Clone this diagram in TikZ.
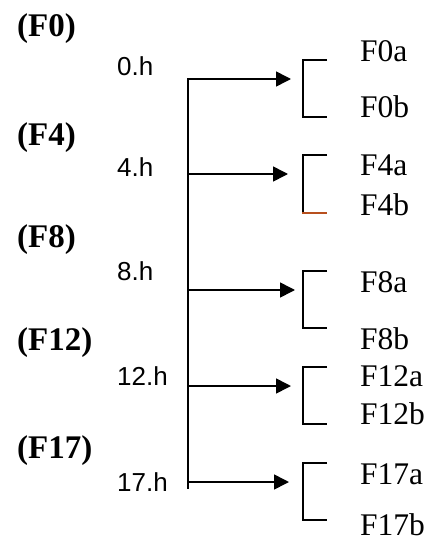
\documentclass[tikz,border=0pt]{standalone}
\usepackage{fontspec}
\setmainfont{Liberation Serif}
\newfontfamily\hfont{Liberation Sans}
\usetikzlibrary{arrows.meta}
\definecolor{tickbrown}{RGB}{184,80,30}
\tikzset{
  line/.style={line width=1.6pt, line cap=rect},
  arr/.style={line width=1.6pt, -{Triangle[length=15pt,width=15pt]}},
  grp/.style={font=\fontsize{33}{33}\selectfont\bfseries, anchor=base west, inner sep=0pt},
  hr/.style={font=\hfont\fontsize{26}{26}\selectfont, anchor=base west, inner sep=0pt},
  lab/.style={font=\fontsize{31.5}{31.5}\selectfont, anchor=base west, inner sep=0pt},
}
\begin{document}
\begin{tikzpicture}[x=1pt, y=-1pt]
\useasboundingbox (0,0) rectangle (446,543);
% group labels
\node[grp] (g0) at (17,37) {(F0)};
\node[grp] (g4) at (17,145) {(F4)};
\node[grp] (g8) at (17,247) {(F8)};
\node[grp] (g12) at (17,350) {(F12)};
\node[grp] (g17) at (17,458) {(F17)};
% hour labels
\node[hr] (h0) at (117,75) {0.h};
\node[hr] (h4) at (117,176) {4.h};
\node[hr] (h8) at (117,280) {8.h};
\node[hr] (h12) at (117,385) {12.h};
\node[hr] (h17) at (117,491) {17.h};
% trunk
\coordinate (t0) at (188,79);
\coordinate (t4) at (188,174);
\coordinate (t8) at (188,290);
\coordinate (t12) at (188,386);
\coordinate (t17) at (188,482);
\coordinate (tend) at (188,488);
\draw[line] (t0) -- (tend);
% arrow tips
\coordinate (a0) at (291,79);
\coordinate (a4) at (288,174);
\coordinate (a8) at (295,290);
\coordinate (a12) at (291,386);
\coordinate (a17) at (289,482);
\draw[arr] (t0) -- (a0);
\draw[arr] (t4) -- (a4);
\draw[arr] (t8) -- (a8);
\draw[arr] (t12) -- (a12);
\draw[arr] (t17) -- (a17);
% brackets
\coordinate (b0t) at (327,60);  \coordinate (b0b) at (327,117);
\coordinate (b4t) at (327,155); \coordinate (b4b) at (327,213);
\coordinate (b8t) at (327,271); \coordinate (b8b) at (327,328);
\coordinate (b12t) at (327,367); \coordinate (b12b) at (327,424);
\coordinate (b17t) at (327,463); \coordinate (b17b) at (327,520);
\draw[line, line cap=butt] (b0t) -- (303,60) -- (303,117) -- (b0b);
\draw[line, line cap=butt] (b4t) -- (303,155) -- (303,213);
\draw[line, line cap=butt, tickbrown] (302.2,213) -- (b4b);
\draw[line, line cap=butt] (b8t) -- (303,271) -- (303,328) -- (b8b);
\draw[line, line cap=butt] (b12t) -- (303,367) -- (303,424) -- (b12b);
\draw[line, line cap=butt] (b17t) -- (303,463) -- (303,520) -- (b17b);
% right labels
\node[lab] (F0a) at (360,61) {F0a};
\node[lab] (F0b) at (360,117) {F0b};
\node[lab] (F4a) at (360,175) {F4a};
\node[lab] (F4b) at (360,215) {F4b};
\node[lab] (F8a) at (360,292) {F8a};
\node[lab] (F8b) at (360,349) {F8b};
\node[lab] (F12a) at (360,386) {F12a};
\node[lab] (F12b) at (360,424) {F12b};
\node[lab] (F17a) at (360,484) {F17a};
\node[lab] (F17b) at (360,535) {F17b};
\end{tikzpicture}
\end{document}
